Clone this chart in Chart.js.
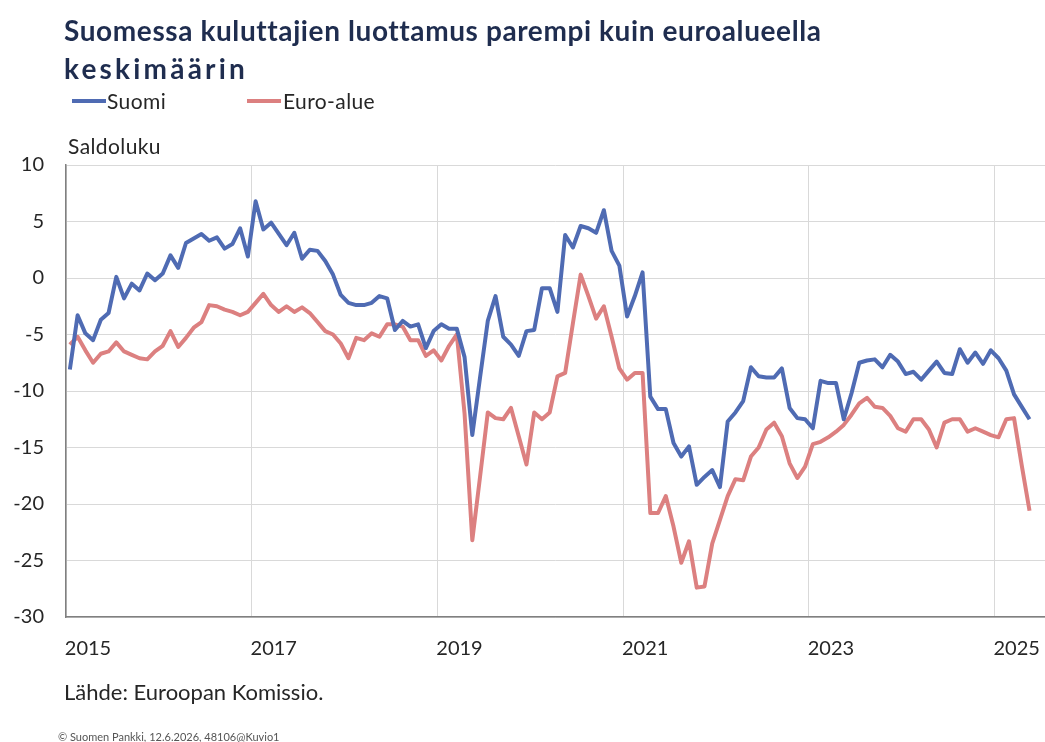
<!DOCTYPE html>
<html>
<head>
<meta charset="utf-8">
<script src="https://cdn.jsdelivr.net/npm/chart.js@4"></script>
<style>
  html, body { margin:0; padding:0; background:#fff; }
  body { width:1045px; height:742px; position:relative; overflow:hidden; font-family:"Lato", "Liberation Sans", sans-serif; }
  #c { position:absolute; left:0; top:0; }
  .txt { position:absolute; white-space:nowrap; }
  .title { left:64px; font-size:28px; font-weight:bold; color:#1f2d4f; line-height:36px; }
  #t1 { top:12px; letter-spacing:0.6px; }
  #t2 { top:50px; letter-spacing:3.2px; }
  .leg { position:absolute; top:89px; font-size:21px; color:#262626; line-height:24px; letter-spacing:0.4px; }
  .sw { position:absolute; height:4px; top:99px; }
  #unit { left:68px; top:133px; font-size:21px; color:#262626; letter-spacing:0.4px; line-height:26px; }
  #src { left:64px; top:679px; font-size:22px; color:#262626; line-height:26px; }
  #copy { left:58px; top:730px; font-size:11px; color:#555; }
</style>
</head>
<body>
<canvas id="c" width="1045" height="742"></canvas>
<div id="t1" class="txt title">Suomessa kuluttajien luottamus parempi kuin euroalueella</div>
<div id="t2" class="txt title">keskimäärin</div>
<div class="sw" style="left:72px;width:34px;background:#4f6bb3"></div>
<div class="leg txt" style="left:107px">Suomi</div>
<div class="sw" style="left:247px;width:34px;background:#dc8080"></div>
<div class="leg txt" style="left:283px">Euro-alue</div>
<div id="unit" class="txt">Saldoluku</div>
<div id="src" class="txt">Lähde: Euroopan Komissio.</div>
<div id="copy" class="txt">© Suomen Pankki, 12.6.2026, 48106@Kuvio1</div>
<script>
// Monthly observations, Jan 2015 – May 2025
const startYear = 2015;
const months = [];
for (let k = 0; k < 125; k++) {
  months.push((startYear + Math.floor(k / 12)) + '-' + String(k % 12 + 1).padStart(2, '0'));
}

const suomi = [
  -8.1, -3.3, -4.9, -5.5, -3.7, -3.1, 0.1, -1.8, -0.5, -1.1, 0.4, -0.2,
  0.4, 2.0, 0.9, 3.1, 3.5, 3.9, 3.3, 3.6, 2.6, 3.0, 4.4, 1.9,
  6.8, 4.3, 4.9, 3.9, 2.9, 4.0, 1.7, 2.5, 2.4, 1.5, 0.3, -1.5,
  -2.2, -2.4, -2.4, -2.2, -1.6, -1.8, -4.6, -3.8, -4.3, -4.1, -6.2, -4.7,
  -4.1, -4.5, -4.5, -7.0, -13.9, -8.8, -3.8, -1.6, -5.2, -5.9, -6.9, -4.7,
  -4.6, -0.9, -0.9, -3.0, 3.8, 2.7, 4.6, 4.4, 4.0, 6.0, 2.4, 1.1,
  -3.4, -1.6, 0.5, -10.5, -11.6, -11.6, -14.6, -15.8, -14.9, -18.3, -17.6, -17.0,
  -18.5, -12.7, -11.9, -10.9, -7.9, -8.7, -8.8, -8.8, -8.0, -11.5, -12.4, -12.5,
  -13.3, -9.1, -9.3, -9.3, -12.5, -10.2, -7.5, -7.3, -7.2, -7.9, -6.8, -7.4,
  -8.5, -8.3, -9.0, -8.2, -7.4, -8.4, -8.5, -6.3, -7.5, -6.6, -7.6, -6.4,
  -7.1, -8.2, -10.3, -11.4, -12.5
];

const euroalue = [
  -5.9, -5.2, -6.4, -7.5, -6.7, -6.5, -5.7, -6.5, -6.8, -7.1, -7.2, -6.5,
  -6.0, -4.7, -6.1, -5.3, -4.4, -3.9, -2.4, -2.5, -2.8, -3.0, -3.3, -3.0,
  -2.2, -1.4, -2.4, -3.0, -2.5, -3.0, -2.6, -3.1, -3.9, -4.7, -5.0, -5.8,
  -7.1, -5.3, -5.5, -4.9, -5.2, -4.1, -4.1, -4.3, -5.5, -5.5, -6.9, -6.4,
  -7.3, -6.0, -5.0, -12.0, -23.2, -17.6, -11.9, -12.4, -12.5, -11.5, -14.0, -16.5,
  -11.9, -12.5, -11.9, -8.7, -8.4, -4.0, 0.3, -1.6, -3.6, -2.5, -5.2, -8.0,
  -9.0, -8.4, -8.4, -20.8, -20.8, -19.3, -22.0, -25.2, -23.3, -27.4, -27.3, -23.5,
  -21.4, -19.3, -17.8, -17.9, -15.8, -15.0, -13.4, -12.8, -14.0, -16.4, -17.7, -16.7,
  -14.7, -14.5, -14.1, -13.6, -13.0, -12.1, -11.1, -10.6, -11.4, -11.5, -12.2, -13.3,
  -13.6, -12.5, -12.5, -13.4, -15.0, -12.8, -12.5, -12.5, -13.6, -13.3, -13.6, -13.9,
  -14.1, -12.5, -12.4, -16.6, -20.6
];

const xTickLabels = ['2015', '2017', '2019', '2021', '2023', '2025'];
const xTickMonths = ['2015-01', '2017-01', '2019-01', '2021-01', '2023-01', '2025-01'];
const yTicks = [10, 5, 0, -5, -10, -15, -20, -25, -30];

const toPts = arr => arr.map((v, i) => ({ x: i, y: v }));
const tickPos = xTickMonths.map(m => months.indexOf(m) - 0.5);

const font = { family: 'Lato', size: 20 };

new Chart(document.getElementById('c'), {
  type: 'line',
  data: {
    datasets: [
      { label: 'Suomi', data: toPts(suomi), borderColor: '#4f6bb3', borderWidth: 4, pointRadius: 0, tension: 0, borderJoinStyle: 'round' },
      { label: 'Euro-alue', data: toPts(euroalue), borderColor: '#dc8080', borderWidth: 4, pointRadius: 0, tension: 0, borderJoinStyle: 'round' }
    ]
  },
  options: {
    responsive: false,
    animation: false,
    devicePixelRatio: 1,
    layout: { padding: { top: 165, right: 0, bottom: 0, left: 0 } },
    plugins: { legend: { display: false }, tooltip: { enabled: false }, title: { display: false } },
    scales: {
      x: {
        type: 'linear',
        min: -0.5,
        max: 126,
        afterFit: s => { s.height = 125; },
        afterBuildTicks: s => { s.ticks = tickPos.map(v => ({ value: v })); },
        grid: { color: '#d9d9d9', lineWidth: 1, drawTicks: false },
        border: { color: '#808080', width: 1.5 },
        ticks: {
          autoSkip: false,
          maxRotation: 0,
          padding: 20,
          labelOffset: 22,
          color: '#262626',
          font: font,
          callback: (v) => { const k = tickPos.indexOf(v); return k >= 0 ? xTickLabels[k] : ''; }
        }
      },
      y: {
        min: -30,
        max: 10,
        afterFit: s => { s.width = 66; },
        afterBuildTicks: s => { s.ticks = yTicks.map(v => ({ value: v })); },
        grid: { color: '#d9d9d9', lineWidth: 1, drawTicks: false },
        border: { color: '#808080', width: 1.5 },
        ticks: { padding: 22, color: '#262626', font: font }
      }
    }
  }
});
</script>
</body>
</html>
